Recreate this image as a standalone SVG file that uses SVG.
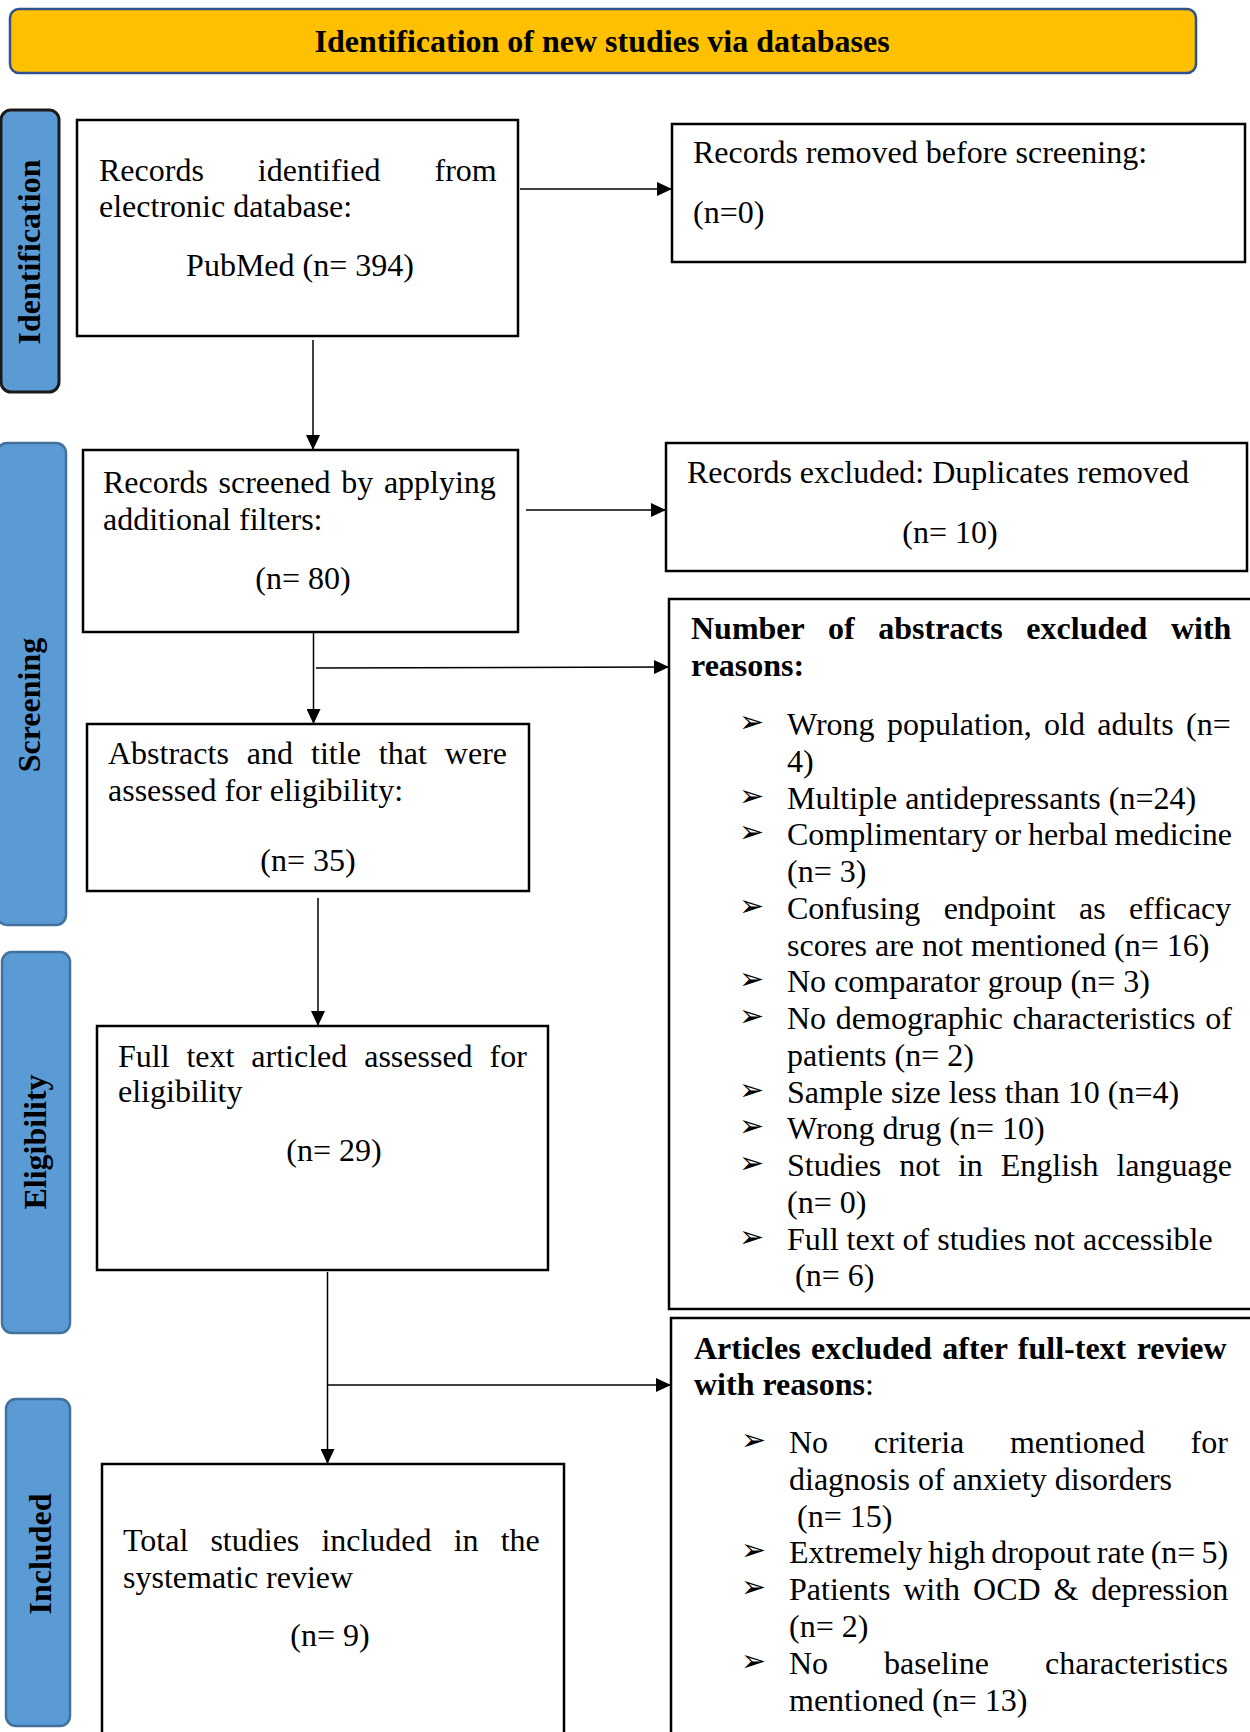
<svg xmlns="http://www.w3.org/2000/svg" width="1250" height="1732" viewBox="0 0 1250 1732">
<style>
.bg{fill:#fff}
.box{fill:#fff;stroke:#000;stroke-width:2.5}
.tab{fill:#5B9BD5;stroke:#41719C;stroke-width:2.5}
.t{font-family:"Liberation Serif","Times New Roman",serif;font-size:32px;fill:#000}
.b{font-weight:bold}
.m{text-anchor:middle}
.bul{font-family:"DejaVu Sans",sans-serif;font-size:30px;fill:#000}
.conn{stroke:#000;stroke-width:1.5;fill:none;marker-end:url(#arr)}
</style>
<defs>
<marker id="arr" markerUnits="userSpaceOnUse" markerWidth="15" markerHeight="14" viewBox="0 0 15 14" refX="15" refY="7" orient="auto">
<path d="M0,0 L15,7 L0,14 z" fill="#000"/>
</marker>
</defs>
<rect class="bg" x="0" y="0" width="1250" height="1732"/>

<g id="title">
<rect x="10" y="9" width="1186" height="64" rx="9" fill="#FFC000" stroke="#2F528F" stroke-width="2.5"/>
<text class="t b m" x="602" y="52">Identification of new studies via databases</text>
</g>

<g id="tab-identification">
<rect x="1" y="110" width="58" height="282" rx="10" fill="#5B9BD5" stroke="#1a1a1a" stroke-width="3"/>
<text class="t b m" transform="translate(40,252) rotate(-90)">Identification</text>
</g>
<g id="tab-screening">
<rect class="tab" x="-3" y="443" width="69" height="482" rx="10"/>
<text class="t b m" transform="translate(40,705) rotate(-90)">Screening</text>
</g>
<g id="tab-eligibility">
<rect class="tab" x="2" y="952" width="68" height="381" rx="10"/>
<text class="t b m" transform="translate(46,1142) rotate(-90)">Eligibility</text>
</g>
<g id="tab-included">
<rect class="tab" x="6" y="1399" width="64" height="327" rx="10"/>
<text class="t b m" transform="translate(51,1554) rotate(-90)">Included</text>
</g>

<g id="connectors">
<line class="conn" x1="313" y1="340" x2="313" y2="450"/>
<line class="conn" x1="520" y1="189" x2="672" y2="189"/>
<line class="conn" x1="526" y1="510" x2="666" y2="510"/>
<line class="conn" x1="313.5" y1="632" x2="313.5" y2="724"/>
<line class="conn" x1="316" y1="668" x2="669" y2="667"/>
<line class="conn" x1="318" y1="898" x2="318" y2="1026"/>
<line class="conn" x1="327.5" y1="1272" x2="327.5" y2="1464"/>
<line class="conn" x1="328" y1="1385" x2="671" y2="1385"/>
</g>

<g id="records-identified">
<rect class="box" x="77" y="120" width="441" height="216"/>
<text class="t" x="99" y="181" word-spacing="46">Records identified from</text>
<text class="t" x="99" y="217">electronic database:</text>
<text class="t m" x="300" y="276">PubMed (n= 394)</text>
</g>

<g id="records-removed">
<rect class="box" x="672" y="124" width="573" height="138"/>
<text class="t" x="693" y="163">Records removed before screening:</text>
<text class="t" x="693" y="223">(n=0)</text>
</g>

<g id="records-screened">
<rect class="box" x="83" y="450" width="435" height="182"/>
<text class="t" x="103" y="493" word-spacing="2.7">Records screened by applying</text>
<text class="t" x="103" y="530">additional filters:</text>
<text class="t m" x="303" y="589">(n= 80)</text>
</g>

<g id="records-excluded">
<rect class="box" x="666" y="443" width="581" height="128"/>
<text class="t" x="687" y="483">Records excluded: Duplicates removed</text>
<text class="t m" x="950" y="543">(n= 10)</text>
</g>

<g id="abstracts-assessed">
<rect class="box" x="87" y="724" width="442" height="167"/>
<text class="t" x="108" y="764" word-spacing="10">Abstracts and title that were</text>
<text class="t" x="108" y="801">assessed for eligibility:</text>
<text class="t m" x="308" y="871">(n= 35)</text>
</g>

<g id="abstracts-excluded">
<rect class="box" x="669" y="599" width="590" height="710"/>
<text class="t b" x="691" y="639" word-spacing="15.7">Number of abstracts excluded with</text>
<text class="t b" x="691" y="676">reasons:</text>
<text class="bul" x="739" y="732">➢</text>
<text class="t" x="787" y="735" word-spacing="4.3">Wrong population, old adults (n=</text>
<text class="t" x="787" y="771.75">4)</text>
<text class="bul" x="739" y="805.5">➢</text>
<text class="t" x="787" y="808.5">Multiple antidepressants (n=24)</text>
<text class="bul" x="739" y="842.25">➢</text>
<text class="t" x="787" y="845.25" word-spacing="-1.3">Complimentary or herbal medicine</text>
<text class="t" x="787" y="882">(n= 3)</text>
<text class="bul" x="739" y="915.75">➢</text>
<text class="t" x="787" y="918.75" word-spacing="15.3">Confusing endpoint as efficacy</text>
<text class="t" x="787" y="955.5">scores are not mentioned (n= 16)</text>
<text class="bul" x="739" y="989.25">➢</text>
<text class="t" x="787" y="992.25">No comparator group (n= 3)</text>
<text class="bul" x="739" y="1026">➢</text>
<text class="t" x="787" y="1029" word-spacing="1.7">No demographic characteristics of</text>
<text class="t" x="787" y="1065.75">patients (n= 2)</text>
<text class="bul" x="739" y="1099.5">➢</text>
<text class="t" x="787" y="1102.5">Sample size less than 10 (n=4)</text>
<text class="bul" x="739" y="1136.25">➢</text>
<text class="t" x="787" y="1139.25">Wrong drug (n= 10)</text>
<text class="bul" x="739" y="1173">➢</text>
<text class="t" x="787" y="1176" word-spacing="9.9">Studies not in English language</text>
<text class="t" x="787" y="1212.75">(n= 0)</text>
<text class="bul" x="739" y="1246.5">➢</text>
<text class="t" x="787" y="1249.5">Full text of studies not accessible</text>
<text class="t" x="795" y="1286.25">(n= 6)</text>
</g>

<g id="full-text-assessed">
<rect class="box" x="97" y="1026" width="451" height="244"/>
<text class="t" x="118" y="1067" word-spacing="8.9">Full text articled assessed for</text>
<text class="t" x="118" y="1102">eligibility</text>
<text class="t m" x="334" y="1161">(n= 29)</text>
</g>

<g id="articles-excluded">
<rect class="box" x="671" y="1318" width="590" height="430"/>
<text class="t b" x="694" y="1359" word-spacing="2.4">Articles excluded after full-text review</text>
<text class="t" x="694" y="1395"><tspan font-weight="bold">with reasons</tspan>:</text>
<text class="bul" x="741" y="1450">➢</text>
<text class="t" x="789" y="1453" word-spacing="37.6">No criteria mentioned for</text>
<text class="t" x="789" y="1489.8">diagnosis of anxiety disorders</text>
<text class="t" x="797" y="1526.6">(n= 15)</text>
<text class="bul" x="741" y="1560.4">➢</text>
<text class="t" x="789" y="1563.4" word-spacing="-2">Extremely high dropout rate (n= 5)</text>
<text class="bul" x="741" y="1597.2">➢</text>
<text class="t" x="789" y="1600.2" word-spacing="4.9">Patients with OCD &amp; depression</text>
<text class="t" x="789" y="1637">(n= 2)</text>
<text class="bul" x="741" y="1670.8">➢</text>
<text class="t" x="789" y="1673.8" word-spacing="48">No baseline characteristics</text>
<text class="t" x="789" y="1710.6">mentioned (n= 13)</text>
</g>

<g id="total-included">
<rect class="box" x="102" y="1464" width="462" height="290"/>
<text class="t" x="123" y="1551" word-spacing="14.1">Total studies included in the</text>
<text class="t" x="123" y="1588">systematic review</text>
<text class="t m" x="330" y="1646">(n= 9)</text>
</g>
</svg>
